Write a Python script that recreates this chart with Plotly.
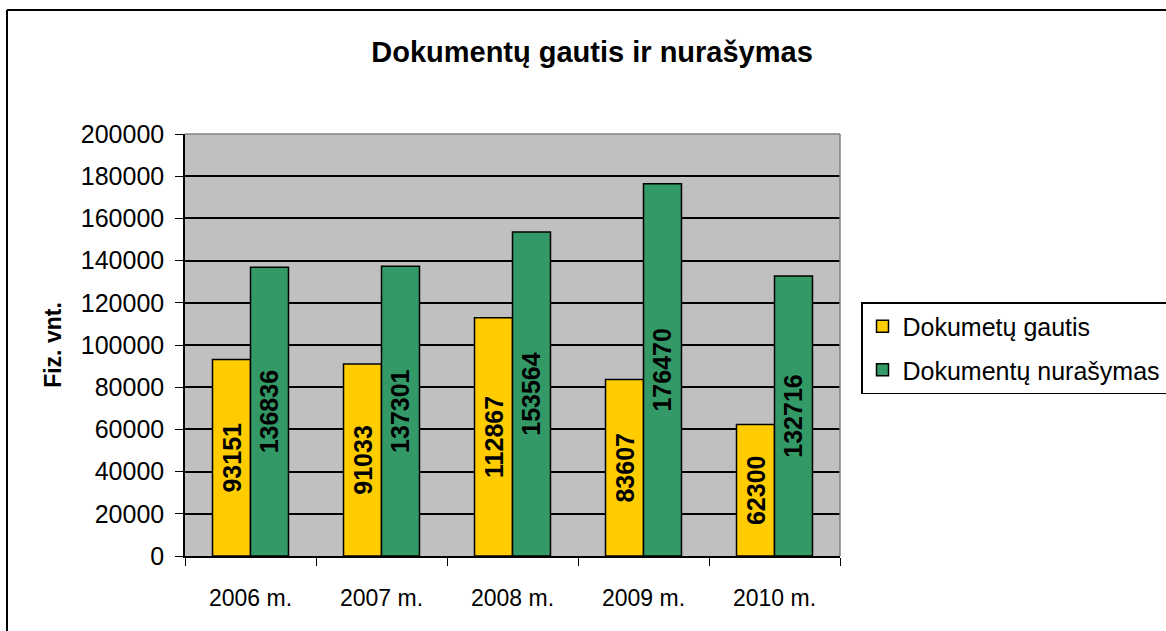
import plotly.graph_objs as go

# Chart data
years = ['2006 m.', '2007 m.', '2008 m.', '2009 m.', '2010 m.']
gautis = [93151, 91033, 112867, 83607, 62300]
nurasymas = [136836, 137301, 153564, 176470, 132716]
y_ticks = [0, 20000, 40000, 60000, 80000, 100000, 120000, 140000, 160000, 180000, 200000]

W, H = 1166, 631
L, R, T, B = 185, 1166 - 840, 134, 631 - 556
pw, ph = W - L - R, H - T - B


def px_x(x):
    # pixel x -> paper coordinate
    return (x - L) / pw


def px_y(y):
    # pixel y -> paper coordinate
    return (H - B - y) / ph


label_font = dict(family='Liberation Sans, Arial', size=25, color='black', weight='bold')

fig = go.Figure()

fig.add_trace(go.Bar(
    x=years, y=gautis, name='Dokumetų gautis',
    marker=dict(color='#FFCC00', line=dict(color='black', width=1.5)),
    text=[str(v) for v in gautis], textposition='inside', insidetextanchor='middle',
    textangle=-90, textfont=label_font, legendgroup='a', constraintext='none'
))
fig.add_trace(go.Bar(
    x=years, y=nurasymas, name='Dokumentų nurašymas',
    marker=dict(color='#339966', line=dict(color='black', width=1.5)),
    text=[str(v) for v in nurasymas], textposition='inside', insidetextanchor='middle',
    textangle=-90, textfont=label_font, legendgroup='b', constraintext='none'
))

shapes = [
    # chart border (only top and left edges are inside the picture)
    dict(type='line', xref='paper', yref='paper', x0=px_x(7), x1=px_x(1170), y0=px_y(10), y1=px_y(10),
         line=dict(color='black', width=2)),
    dict(type='line', xref='paper', yref='paper', x0=px_x(7), x1=px_x(7), y0=px_y(10), y1=px_y(640),
         line=dict(color='black', width=2)),
    # plot area top / right edges
    dict(type='line', xref='paper', yref='paper', x0=0, x1=1, y0=1, y1=1, line=dict(color='#808080', width=1.5)),
    dict(type='line', xref='paper', yref='paper', x0=1, x1=1, y0=0, y1=1, line=dict(color='#808080', width=1.5)),
]

fig.update_layout(
    width=W, height=H,
    margin=dict(l=L, r=R, t=T, b=B, autoexpand=False),
    paper_bgcolor='white', plot_bgcolor='#C0C0C0',
    font=dict(family='Liberation Sans, Arial', size=23, color='black'),
    title=dict(text='<b>Dokumentų gautis ir nurašymas</b>', x=592 / W, xanchor='center',
               y=1 - 52 / H, yanchor='middle', font=dict(size=29)),
    barmode='group', bargap=0.42, bargroupgap=0,
    xaxis=dict(showline=True, linecolor='black', linewidth=1.5, ticks='outside', ticklen=8,
               tickcolor='black', tickson='boundaries', showgrid=False, ticklabelstandoff=21,
               automargin=False),
    yaxis=dict(range=[0, 200000], tickvals=y_ticks, tickformat='d', showline=True, linecolor='black',
               linewidth=1.5, ticks='outside', ticklen=8, tickcolor='black', showgrid=True,
               gridcolor='black', gridwidth=1.5, zeroline=False, ticklabelstandoff=6, automargin=False,
               tickfont=dict(size=25),
               title=dict(text='<b>Fiz. vnt.</b>', standoff=13, font=dict(size=23))),
    legend=dict(x=px_x(861), y=px_y(302), xanchor='left', yanchor='top', bordercolor='black',
                borderwidth=1.5, bgcolor='white', font=dict(size=25), traceorder='grouped',
                tracegroupgap=8, itemwidth=30),
    shapes=shapes,
)

# drop the browser's default body margin so the figure fills the window
fig.write_html('out.html', config={'displayModeBar': False},
               post_script="document.body.style.margin='0';document.body.style.overflow='hidden';")
